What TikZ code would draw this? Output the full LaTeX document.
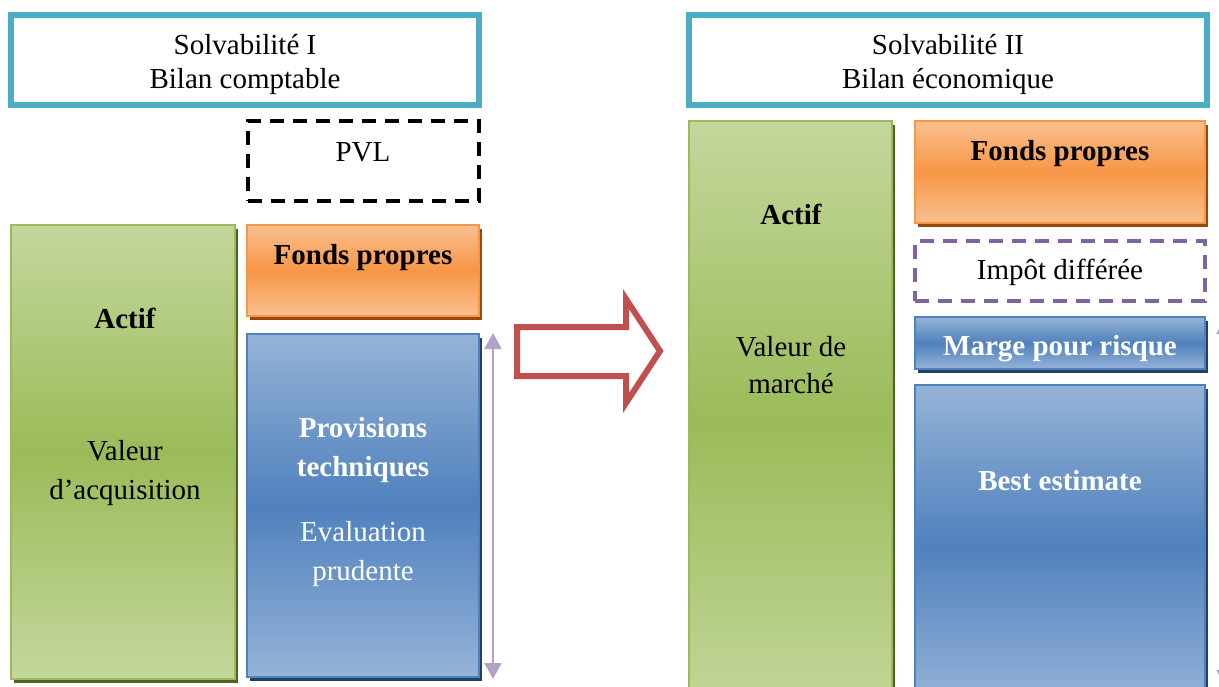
\documentclass[tikz,border=0pt]{standalone}
\usepackage{fontspec}
\setmainfont{Liberation Serif}
\usetikzlibrary{arrows.meta}
\definecolor{tealb}{HTML}{4BACC6}
\definecolor{grn}{HTML}{9BBB59}
\definecolor{grnl}{HTML}{C4D79C}
\definecolor{grnd}{HTML}{4F6228}
\definecolor{org}{HTML}{F79646}
\definecolor{orgl}{HTML}{FAC090}
\definecolor{orgd}{HTML}{984807}
\definecolor{blu}{HTML}{4F81BD}
\definecolor{blul}{HTML}{95B3D7}
\definecolor{blud}{HTML}{244061}
\definecolor{lav}{HTML}{B3A2C7}
\definecolor{purp}{HTML}{8064A2}
\definecolor{redb}{HTML}{C0504D}
\tikzset{
  txt/.style={font=\fontsize{29}{38}\selectfont, inner sep=0pt, outer sep=0pt, align=center},
  titlebox/.style={draw=tealb, line width=6.5pt, fill=white, inner sep=0pt},
  basebox/.style={anchor=north west, inner sep=0pt, outer sep=0pt, line width=2.5pt},
  greenbox/.style={basebox, draw=grn, top color=grnl, bottom color=grnl, middle color=grn,
    preaction={fill=grnd, transform canvas={xshift=3pt, yshift=-4pt}}},
  orangebox/.style={basebox, draw=org, top color=orgl, bottom color=orgl, middle color=org,
    preaction={fill=orgd, transform canvas={xshift=3pt, yshift=-4pt}}},
  bluebox/.style={basebox, draw=blu, top color=blul, bottom color=blul, middle color=blu,
    preaction={fill=blud, transform canvas={xshift=3pt, yshift=-4pt}}},
  dashbox/.style={basebox, line width=4pt, dash pattern=on 14pt off 9pt, fill=white},
  span/.style={draw=lav, line width=2pt, {Triangle[width=17pt,length=16pt]}-{Triangle[width=17pt,length=16pt]}},
}
\begin{document}
\begin{tikzpicture}[x=1pt, y=-1pt]
\useasboundingbox (0,0) rectangle (1219,686);
\clip (0,0) rectangle (1219,686);

% titles
\node[titlebox, minimum width=468pt, minimum height=90pt] (t1) at (245,60) {};
\node[txt, font=\fontsize{29}{34}\selectfont] (t1t) at (245,65) {Solvabilité I\\Bilan comptable};
\node[titlebox, minimum width=518pt, minimum height=90pt] (t2) at (948,60) {};
\node[txt, font=\fontsize{29}{34}\selectfont] (t2t) at (948,65) {Solvabilité II\\Bilan économique};

% left balance sheet
\node[dashbox, draw=black, minimum width=231pt, minimum height=80pt] (pvl) at (248,121) {};
\node[txt] (pvlt) at (363,152) {PVL};

\node[greenbox, minimum width=224pt, minimum height=454pt] (gl) at (11,225) {};
\node[txt, font=\fontsize{29}{38}\selectfont\bfseries] (glt1) at (125,318) {Actif};
\node[txt, font=\fontsize{29}{39}\selectfont] (glt2) at (125,473) {Valeur\\d’acquisition};

\node[orangebox, minimum width=232pt, minimum height=91pt] (ofl) at (247,225) {};
\node[txt, font=\fontsize{29}{38}\selectfont\bfseries] (oflt) at (363,258) {Fonds propres};

\node[bluebox, minimum width=232pt, minimum height=343pt] (bl) at (247,334) {};
\node[txt, text=white, font=\fontsize{29}{39}\selectfont\bfseries] (blt1) at (363,450) {Provisions\\techniques};
\node[txt, text=white, font=\fontsize{29}{39}\selectfont] (blt2) at (363,554) {Evaluation\\prudente};

\coordinate (la1) at (493,333);
\coordinate (la2) at (493,679);
\draw[span] (la1) -- (la2);

% big arrow
\draw[redb, line width=6pt, fill=white, line join=miter]
  (517,327) -- (626,327) -- (626,299) -- (660,351) -- (626,403) -- (626,376) -- (517,376) -- cycle;

% right balance sheet
\node[greenbox, minimum width=203pt, minimum height=600pt] (gr) at (689,121) {};
\node[txt, font=\fontsize{29}{38}\selectfont\bfseries] (grt1) at (791,214) {Actif};
\node[txt, font=\fontsize{29}{37}\selectfont] (grt2) at (791,365) {Valeur de\\marché};

\node[orangebox, minimum width=290pt, minimum height=102pt] (ofr) at (915,121) {};
\node[txt, font=\fontsize{29}{38}\selectfont\bfseries] (ofrt) at (1060,154) {Fonds propres};

\node[dashbox, draw=purp, line width=3.5pt, minimum width=290pt, minimum height=60pt] (imp) at (915,241) {};
\node[txt] (impt) at (1060,272) {Impôt différée};

\node[bluebox, minimum width=290pt, minimum height=52pt] (mr) at (915,317) {};
\node[txt, text=white, font=\fontsize{29}{38}\selectfont\bfseries] (mrt) at (1060,349) {Marge pour risque};

\node[bluebox, minimum width=290pt, minimum height=320pt] (be) at (915,385) {};
\node[txt, text=white, font=\fontsize{29}{38}\selectfont\bfseries] (bet) at (1060,481) {Best estimate};

\coordinate (ra1) at (1225,318);
\coordinate (ra2) at (1225,686);
\draw[span] (ra1) -- (ra2);
\end{tikzpicture}
\end{document}
